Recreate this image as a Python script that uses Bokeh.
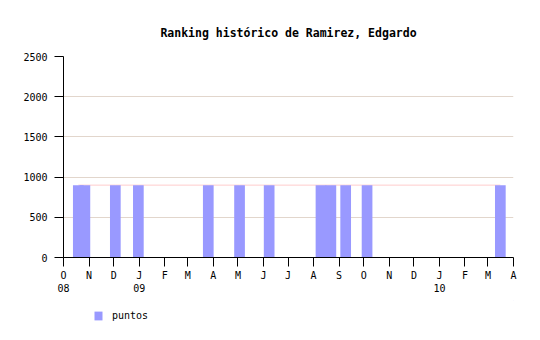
import pandas as pd
from bokeh.plotting import figure
from bokeh.layouts import column
from bokeh.models import FixedTicker, Range1d, Legend, LegendItem
from bokeh.embed import file_html
from bokeh.resources import INLINE

# data
dates = ["2008-10-19", "2008-10-27", "2008-12-03", "2008-12-31", "2009-03-26",
         "2009-05-03", "2009-06-08", "2009-08-10", "2009-08-22", "2009-09-09",
         "2009-10-05", "2010-03-16"]
puntos = [900, 900, 900, 900, 900, 900, 900, 900, 900, 900, 900, 900]
month_starts = ["2008-10-01", "2008-11-01", "2008-12-01", "2009-01-01", "2009-02-01",
                "2009-03-01", "2009-04-01", "2009-05-01", "2009-06-01", "2009-07-01",
                "2009-08-01", "2009-09-01", "2009-10-01", "2009-11-01", "2009-12-01",
                "2010-01-01", "2010-02-01", "2010-03-01", "2010-04-01"]
month_labels = ["O\n08", "N", "D", "J\n09", "F", "M", "A", "M", "J", "J", "A", "S",
                "O", "N", "D", "J\n10", "F", "M", "A"]
y_ticks = [0, 500, 1000, 1500, 2000, 2500]
series_name = "puntos"

start = pd.Timestamp(month_starts[0])
xd = [(pd.Timestamp(d) - start).days for d in dates]
xt = [(pd.Timestamp(d) - start).days for d in month_starts]

FONT = "DejaVu Sans Mono"
BAR = "#9999ff"

p = figure(width=540, height=300, output_backend="svg", toolbar_location=None,
           x_range=Range1d(xt[0], xt[-1]), y_range=Range1d(0, 2500),
           min_border_left=63, min_border_right=27, min_border_top=56,
           min_border_bottom=43)
p.outline_line_color = None
p.background_fill_color = "white"
p.border_fill_color = "white"

p.title.text = "Ranking histórico de Ramirez, Edgardo"
p.title.align = "center"
p.title.text_font = FONT
p.title.text_font_size = "11.5px"
p.title.text_font_style = "bold"
p.title.text_color = "black"
p.title.standoff = 34

p.line(xd, puntos, line_color="#ffcccc", line_width=1)
p.vbar(x=xd, top=puntos, width=13, bottom=0, fill_color=BAR, line_color=None)

p.xaxis.ticker = FixedTicker(ticks=xt)
p.xaxis.major_label_overrides = {t: l for t, l in zip(xt, month_labels)}
p.yaxis.ticker = FixedTicker(ticks=y_ticks)
for ax in (p.xaxis, p.yaxis):
    ax.axis_line_color = "black"
    ax.major_tick_line_color = "black"
    ax.major_tick_in = 0
    ax.major_tick_out = 9
    ax.minor_tick_line_color = None
    ax.major_label_text_font = FONT
    ax.major_label_text_font_size = "10px"
    ax.major_label_text_color = "black"
p.yaxis.major_label_standoff = 7
p.xaxis.major_label_standoff = 3

p.xgrid.grid_line_color = None
p.ygrid.grid_line_color = "#e2d6cc"
p.ygrid.ticker = FixedTicker(ticks=y_ticks[1:])

# legend strip below the chart (zero-height proxy renderer for the swatch)
p2 = figure(width=540, height=40, output_backend="svg", toolbar_location=None,
            x_axis_location=None, y_axis_location=None,
            x_range=Range1d(0, 1), y_range=Range1d(0, 1),
            min_border_left=0, min_border_right=0, min_border_top=0,
            min_border_bottom=0)
p2.outline_line_color = None
p2.background_fill_color = "white"
p2.border_fill_color = "white"
p2.xgrid.grid_line_color = None
p2.ygrid.grid_line_color = None
r2 = p2.vbar(x=[5], top=[puntos[0]], bottom=[puntos[0]], width=1,
             fill_color=BAR, line_color=None)
legend = Legend(items=[LegendItem(label=series_name, renderers=[r2])],
                location=(30, 19), orientation="horizontal",
                glyph_width=10, glyph_height=11, label_height=11,
                label_text_font=FONT, label_text_font_size="10px",
                label_text_color="black",
                border_line_color=None, background_fill_alpha=0,
                padding=0, margin=0, spacing=0, label_standoff=9)
p2.add_layout(legend, "center")

open("out.html", "w").write(file_html(column(p, p2, spacing=0), INLINE))
